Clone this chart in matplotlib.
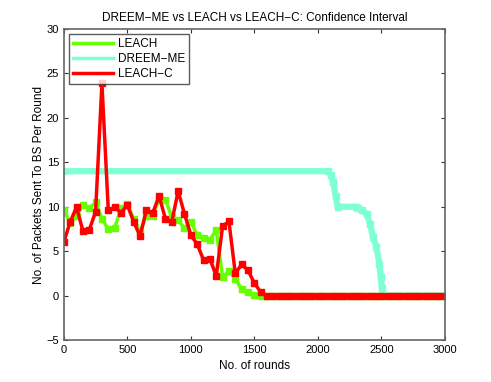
import numpy as np
import matplotlib
matplotlib.use("Agg")
import matplotlib.pyplot as plt

plt.rcParams['font.family'] = ['Liberation Sans', 'DejaVu Sans']

# LEACH-C: points every 50 rounds up to 1550, then zero
rounds_c = list(range(0, 1600, 50))
leach_c = [6.0, 8.3, 9.95, 7.3, 7.4, 9.4, 23.9, 9.6, 9.95, 9.3, 10.2, 8.3,
           6.7, 9.6, 9.3, 11.2, 8.65, 8.3, 11.75, 9.2, 6.8, 5.8, 4.0, 4.15,
           2.2, 7.8, 8.35, 2.5, 3.5, 2.85, 1.4, 0.4]

# LEACH
rounds_l = list(range(0, 1600, 50))
leach = [9.6, 8.2, 9.0, 10.2, 9.8, 10.5, 8.65, 7.45, 7.6, 9.8, 10.3, 8.65,
         7.15, 9.0, 8.9, 10.9, 10.8, 8.8, 8.45, 7.6, 8.3, 6.8, 6.5, 6.3,
         7.35, 2.1, 2.75, 1.9, 0.7, 0.4, 0.1, 0.0]

# DREEM-ME breakpoints
rounds_d = [0, 2080, 2100, 2120, 2140, 2155, 2300, 2320, 2345, 2385, 2410,
            2435, 2460, 2485, 2495, 2505, 2510, 3000]
dreem = [14, 14, 13.6, 12.8, 11.2, 10.0, 10.0, 9.9, 9.6, 9.2, 8.1, 6.6, 5.5,
         3.6, 2.1, 0.8, 0.0, 0.0]

zero_rounds = list(range(1600, 3001, 50))
zeros = [0.0] * len(zero_rounds)

fig = plt.figure(figsize=(4.91, 3.82), dpi=100)
ax = fig.add_axes([0.130, 0.110, 0.776, 0.814])

ax.plot(rounds_l + zero_rounds, leach + zeros, color='#66ff00', lw=2.5,
        marker='s', ms=4, label='LEACH')
ax.plot(rounds_d, dreem, color='#7fffd4', lw=4.5, marker='s', ms=4,
        label='DREEM-ME')
ax.plot(rounds_c + zero_rounds, leach_c + zeros, color='#ff0000', lw=2.5,
        marker='s', ms=4, label='LEACH-C')

ax.set_xlim(0, 3000)
ax.set_ylim(-5, 30)
ax.set_xticks(range(0, 3001, 500))
ax.set_yticks(range(-5, 31, 5))
ax.tick_params(direction='in', top=True, right=True, labelsize=8, length=3,
               color='#333333')
for s in ax.spines.values():
    s.set_color('#666666')
    s.set_linewidth(1.2)

ax.set_title('DREEM\u2212ME vs LEACH vs LEACH\u2212C: Confidence Interval', fontsize=8.5)
ax.set_xlabel('No. of rounds', fontsize=8.5)
ax.set_ylabel('No. of Packets Sent To BS Per Round', fontsize=8.5, labelpad=1)

leg = ax.legend(loc='upper left', fontsize=8.5, frameon=True, fancybox=False,
                edgecolor='#333333', borderpad=0.35, labelspacing=0.25,
                handlelength=3.4, handletextpad=0.4, borderaxespad=0.4)
for h in leg.get_lines():
    h.set_marker('')
    h.set_linewidth(2.5)
leg.texts[1].set_text('DREEM\u2212ME')
leg.texts[2].set_text('LEACH\u2212C')

fig.savefig('out.png', dpi=100)
